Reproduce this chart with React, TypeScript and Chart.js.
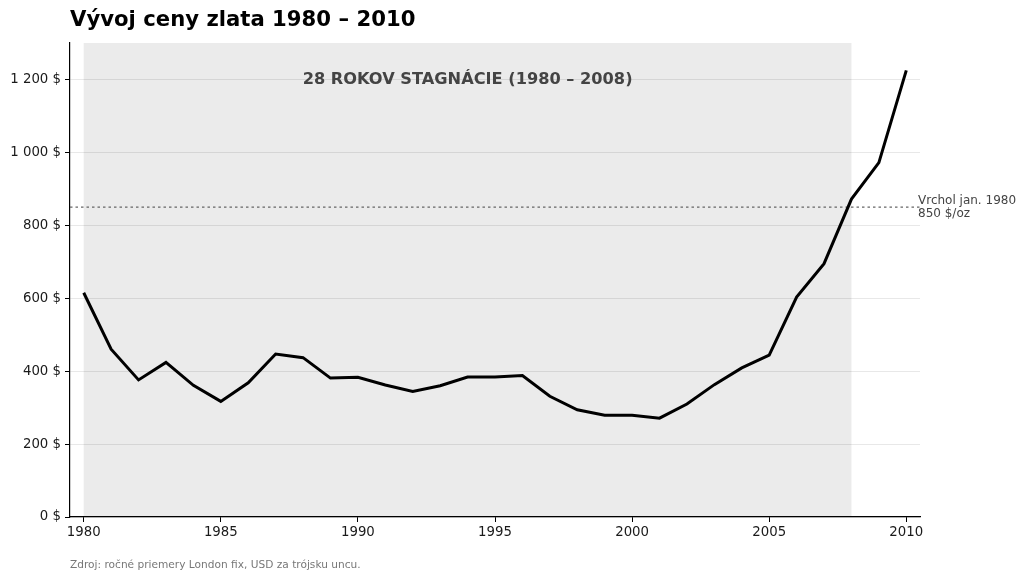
import React, { useEffect, useRef } from "react";
import { Chart, registerables } from "chart.js";

Chart.register(...registerables);

const years = [1980, 1981, 1982, 1983, 1984, 1985, 1986, 1987, 1988, 1989, 1990, 1991, 1992, 1993, 1994, 1995, 1996, 1997, 1998, 1999, 2000, 2001, 2002, 2003, 2004, 2005, 2006, 2007, 2008, 2009, 2010];
const prices = [615, 460, 376, 424, 361, 317, 368, 447, 437, 381, 383, 362, 344, 360, 384, 384, 388, 331, 294, 279, 279, 271, 310, 363, 409, 444, 603, 695, 872, 972, 1225];
const xTicks = [1980, 1985, 1990, 1995, 2000, 2005, 2010];
const yTicks = [0, 200, 400, 600, 800, 1000, 1200];
const stagnationStart = 1980;
const stagnationEnd = 2008;
const peakValue = 850;

const title = "Vývoj ceny zlata 1980 – 2010";
const bandLabel = "28 ROKOV STAGNÁCIE (1980 – 2008)";
const peakLabel = ["Vrchol jan. 1980", "850 $/oz"];
const sourceNote = "Zdroj: ročné priemery London fix, USD za trójsku uncu.";

const FONT = "'DejaVu Sans', sans-serif";

function fmt(v: number): string {
  const s = String(Math.round(v));
  return s.replace(/\B(?=(\d{3})+(?!\d))/g, " ") + " $";
}

export default function App() {
  const ref = useRef<HTMLCanvasElement | null>(null);
  useEffect(() => {
    document.body.style.margin = "0";
    const canvas = ref.current;
    if (!canvas) return;

    const decor = {
      id: "decor",
      beforeDraw(chart: any) {
        const { ctx, chartArea, scales } = chart;
        const x0 = scales.x.getPixelForValue(stagnationStart);
        const x1 = scales.x.getPixelForValue(stagnationEnd);
        ctx.save();
        ctx.fillStyle = "#ebebeb";
        ctx.fillRect(x0, chartArea.top, x1 - x0, chartArea.bottom - chartArea.top);
        ctx.restore();
      },
      beforeDatasetsDraw(chart: any) {
        const { ctx, chartArea, scales } = chart;
        const y = scales.y.getPixelForValue(peakValue);
        ctx.save();
        ctx.strokeStyle = "#666";
        ctx.lineWidth = 1.2;
        ctx.setLineDash([2.5, 3]);
        ctx.beginPath();
        ctx.moveTo(chartArea.left, y);
        ctx.lineTo(chartArea.right, y);
        ctx.stroke();
        ctx.restore();
        const cx = (scales.x.getPixelForValue(stagnationStart) + scales.x.getPixelForValue(stagnationEnd)) / 2;
        ctx.save();
        ctx.fillStyle = "#444";
        ctx.font = "bold 16.2px " + FONT;
        ctx.textAlign = "center";
        ctx.textBaseline = "middle";
        ctx.fillText(bandLabel, cx, scales.y.getPixelForValue(1200));
        ctx.restore();
      },
      afterDraw(chart: any) {
        const { ctx, chartArea, scales } = chart;
        ctx.save();
        ctx.fillStyle = "#000";
        ctx.font = "bold 21.2px " + FONT;
        ctx.textAlign = "left";
        ctx.textBaseline = "alphabetic";
        ctx.fillText(title, 70, 26);

        const y = scales.y.getPixelForValue(peakValue);
        ctx.fillStyle = "#444";
        ctx.font = "12px " + FONT;
        ctx.textBaseline = "middle";
        ctx.fillText(peakLabel[0], chartArea.right - 2, y - 6.5);
        ctx.fillText(peakLabel[1], chartArea.right - 2, y + 6.5);

        ctx.fillStyle = "#777";
        ctx.font = "10.6px " + FONT;
        ctx.fillText(sourceNote, 70, 565);
        ctx.restore();
      },
    };

    const chart = new Chart(canvas, {
      type: "line",
      data: {
        datasets: [
          {
            data: years.map((y, i) => ({ x: y, y: prices[i] })),
            borderColor: "#000",
            borderWidth: 3,
            pointRadius: 0,
            tension: 0,
            fill: false,
          },
        ],
      },
      options: {
        responsive: false,
        animation: false,
        layout: { padding: { left: 0, top: 43, right: 104, bottom: 0 } },
        plugins: { legend: { display: false }, tooltip: { enabled: false }, title: { display: false } },
        scales: {
          x: {
            type: "linear",
            min: 1979.5,
            max: 2010.5,
            afterFit(scale: any) {
              scale.height = 63;
            },
            afterBuildTicks(scale: any) {
              scale.ticks = xTicks.map((v) => ({ value: v }));
            },
            grid: { display: true, drawOnChartArea: false, tickColor: "#000", tickLength: 5, tickWidth: 1 },
            border: { color: "#000", width: 1.2 },
            ticks: {
              color: "#1a1a1a",
              font: { family: FONT, size: 13.3 },
              padding: 3,
              maxRotation: 0,
              autoSkip: false,
              callback: (v: any) => String(v),
            },
          },
          y: {
            type: "linear",
            min: 0,
            max: 1300,
            afterFit(scale: any) {
              scale.width = 70;
            },
            afterBuildTicks(scale: any) {
              scale.ticks = yTicks.map((v) => ({ value: v }));
            },
            grid: { color: "rgba(0,0,0,0.09)", lineWidth: 1, tickColor: "#000", tickLength: 5 },
            border: { color: "#000", width: 1.2 },
            ticks: {
              color: "#1a1a1a",
              font: { family: FONT, size: 13.3 },
              padding: 4,
              autoSkip: false,
              callback: (v: any) => fmt(Number(v)),
            },
          },
        },
      },
      plugins: [decor],
    } as any);
    return () => chart.destroy();
  }, []);

  return (
    <div style={{ width: 1024, height: 580, background: "#fff" }}>
      <canvas ref={ref} width={1024} height={580} style={{ display: "block" }} />
    </div>
  );
}
